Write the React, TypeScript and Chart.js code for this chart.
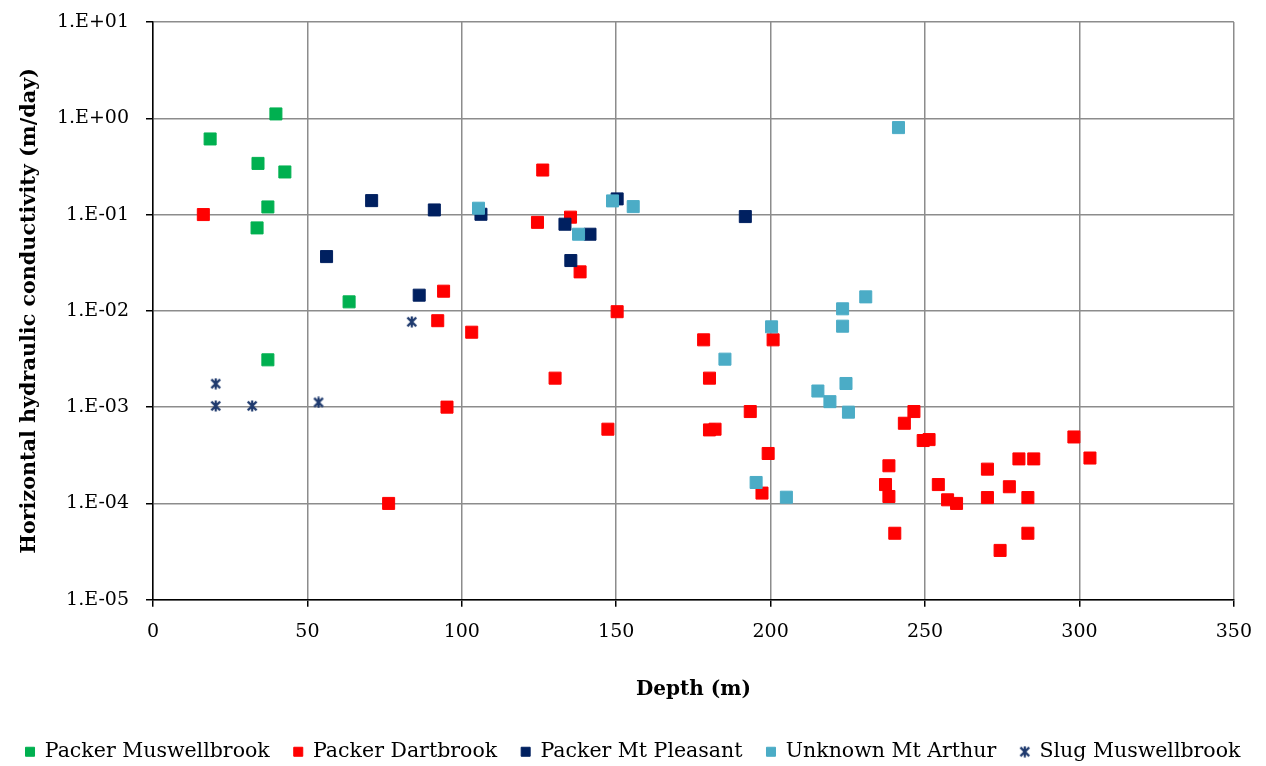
import React, { useEffect, useRef } from 'react';
import { Chart, registerables } from 'chart.js';

Chart.register(...registerables);

const seriesNames = [
  'Packer Muswellbrook',
  'Packer Dartbrook',
  'Packer Mt Pleasant',
  'Unknown Mt Arthur',
  'Slug Muswellbrook',
];

const muswellbrookDepth = [18.5, 39.8, 34.0, 42.7, 37.2, 33.7, 63.5, 37.2];
const muswellbrookK = [0.61, 1.11, 0.34, 0.277, 0.12, 0.0727, 0.0124, 0.0031];

const dartbrookDepth = [
  16.3, 76.3, 94.1, 92.2, 103.2, 95.2, 126.2, 124.5, 135.2, 138.3, 150.3, 130.2,
  178.3, 200.8, 180.2, 193.4, 147.3, 180.2, 182.0, 199.2, 197.2, 246.4, 243.3,
  249.4, 251.3, 238.3, 237.2, 238.3, 254.3, 257.3, 260.2, 240.2, 270.2, 270.2,
  280.4, 285.2, 277.3, 283.3, 283.3, 274.3, 298.2, 303.4,
];
const dartbrookK = [
  0.1, 0.0001, 0.016, 0.0079, 0.006, 0.001, 0.29, 0.083, 0.094, 0.0254, 0.0098, 0.002,
  0.005, 0.005, 0.002, 0.0009, 0.00059, 0.00058, 0.00059, 0.00033, 0.000128, 0.0009, 0.00068,
  0.00045, 0.00046, 0.000246, 0.000157, 0.000118, 0.000157, 0.000109, 0.0001, 0.000049, 0.000227, 0.000115,
  0.00029, 0.00029, 0.000149, 0.000115, 0.000049, 0.0000325, 0.00049, 0.000296,
];

const mtPleasantDepth = [70.8, 56.2, 86.2, 91.1, 106.2, 133.4, 141.5, 135.3, 150.3, 191.8];
const mtPleasantK = [0.1396, 0.0366, 0.01455, 0.1117, 0.1007, 0.0794, 0.0625, 0.0333, 0.1455, 0.0953];

const mtArthurDepth = [
  105.4, 137.8, 148.8, 155.5, 241.4, 230.8, 223.3, 223.3, 200.3, 185.2, 224.4,
  215.3, 219.2, 225.2, 195.3, 205.1,
];
const mtArthurK = [
  0.1164, 0.0625, 0.1387, 0.121, 0.8, 0.01397, 0.0105, 0.00693, 0.00682, 0.00315, 0.00176,
  0.00147, 0.00114, 0.000887, 0.000165, 0.000116,
];

const slugDepth = [20.3, 20.3, 32.1, 53.6, 83.8];
const slugK = [0.00175, 0.00103, 0.00103, 0.00112, 0.00769];

const yTickValues = [1e1, 1e0, 1e-1, 1e-2, 1e-3, 1e-4, 1e-5];
const xTitle = 'Depth (m)';
const yTitle = 'Horizontal hydraulic conductivity (m/day)';

const COLORS = ['#00B050', '#FF0000', '#002060', '#4BACC6', '#1F3A6E'];

function toPoints(xs: number[], ys: number[]) {
  return xs.map((x, i) => ({ x, y: ys[i] }));
}

function formatSci(v: number) {
  const e = Math.round(Math.log10(v));
  return '1.E' + (e < 0 ? '-' : '+') + String(Math.abs(e)).padStart(2, '0');
}

function makeStar(color: string, s: number, lw: number) {
  const c = document.createElement('canvas');
  c.width = s;
  c.height = s;
  const ctx = c.getContext('2d')!;
  ctx.strokeStyle = color;
  ctx.lineWidth = lw;
  ctx.lineCap = 'butt';
  const m = lw / 2 + 0.5;
  ctx.beginPath();
  ctx.moveTo(m, m);
  ctx.lineTo(s - m, s - m);
  ctx.moveTo(s - m, m);
  ctx.lineTo(m, s - m);
  ctx.moveTo(s / 2, 0.5);
  ctx.lineTo(s / 2, s - 0.5);
  ctx.stroke();
  return c;
}

export default function App() {
  const ref = useRef<HTMLCanvasElement | null>(null);

  useEffect(() => {
    document.body.style.margin = '0';
    const canvas = ref.current;
    if (!canvas) return;
    const FONT = "'DejaVu Serif', serif";
    const star = makeStar(COLORS[4], 12, 2.2);

    const sq = (i: number, label: string, data: { x: number; y: number }[], order: number) => ({
      label,
      data,
      backgroundColor: COLORS[i],
      borderColor: COLORS[i],
      borderWidth: 1,
      pointStyle: 'rect' as const,
      pointRadius: 8.5,
      pointHoverRadius: 8.5,
      order,
    });

    const chart = new Chart(canvas, {
      type: 'scatter',
      data: {
        datasets: [
          sq(0, seriesNames[0], toPoints(muswellbrookDepth, muswellbrookK), 5),
          sq(1, seriesNames[1], toPoints(dartbrookDepth, dartbrookK), 4),
          sq(2, seriesNames[2], toPoints(mtPleasantDepth, mtPleasantK), 3),
          sq(3, seriesNames[3], toPoints(mtArthurDepth, mtArthurK), 2),
          {
            label: seriesNames[4],
            data: toPoints(slugDepth, slugK),
            backgroundColor: COLORS[4],
            borderColor: COLORS[4],
            pointStyle: star as any,
            pointRadius: 6,
            order: 1,
          },
        ],
      },
      options: {
        animation: false,
        responsive: true,
        maintainAspectRatio: false,
        layout: { padding: { left: 0, top: 22, right: 0, bottom: -6 } },
        plugins: {
          tooltip: { enabled: false },
          legend: {
            position: 'bottom',
            labels: {
              usePointStyle: true,
              boxWidth: 9,
              boxHeight: 9,
              padding: 24,
              color: '#000',
              font: { family: FONT, size: 20.5 },
              sort: (a: any, b: any) => a.datasetIndex - b.datasetIndex,
            },
          },
        },
        scales: {
          x: {
            type: 'linear',
            min: 0,
            max: 350,
            ticks: {
              stepSize: 50,
              color: '#000',
              padding: 14,
              font: { family: FONT, size: 19 },
            },
            grid: {
              color: '#8c8c8c',
              lineWidth: 1.5,
              tickColor: '#000',
              tickLength: 7,
              tickWidth: 1.5,
            },
            border: { color: '#000', width: 1.5 },
            title: {
              display: true,
              text: xTitle,
              color: '#000',
              font: { family: FONT, size: 20, weight: 'bold' },
              padding: { top: 20, bottom: 16 },
            },
          },
          y: {
            type: 'logarithmic',
            min: 1e-5,
            max: 10,
            afterBuildTicks: (scale: any) => {
              scale.ticks = yTickValues.map((v) => ({ value: v }));
            },
            afterFit: (scale: any) => {
              scale.width = 153;
              scale.paddingTop = 0;
              scale.paddingBottom = 0;
            },
            ticks: {
              color: '#000',
              padding: 17,
              font: { family: FONT, size: 19 },
              callback: (v: any) => formatSci(Number(v)),
            },
            grid: {
              color: '#8c8c8c',
              lineWidth: 1.5,
              tickColor: '#000',
              tickLength: 7,
              tickWidth: 1.5,
            },
            border: { color: '#000', width: 1.5 },
            title: {
              display: true,
              text: yTitle,
              color: '#000',
              font: { family: FONT, size: 20.7, weight: 'bold' },
              padding: { top: 17, bottom: 4 },
            },
          },
          yRightSpacer: {
            type: 'linear',
            position: 'right',
            display: true,
            ticks: { display: false },
            grid: { display: false, drawTicks: false },
            border: { display: false },
            afterFit: (scale: any) => {
              scale.width = 32;
              scale.paddingTop = 0;
              scale.paddingBottom = 0;
            },
          },
        },
      },
    });
    return () => chart.destroy();
  }, []);

  return (
    <div style={{ width: 1266, height: 766, position: 'relative', background: '#fff', overflow: 'hidden' }}>
      <canvas ref={ref} style={{ display: 'block' }} />
    </div>
  );
}
